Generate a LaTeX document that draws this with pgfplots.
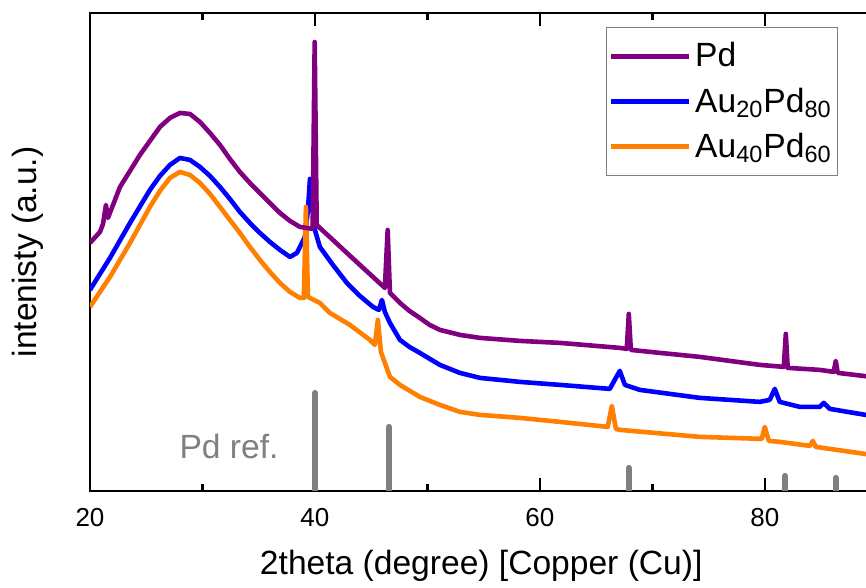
\documentclass[border=0pt]{standalone}
\usepackage{fontspec}
\setmainfont{Liberation Sans}
\usepackage{pgfplots}
\pgfplotsset{compat=1.18}
\definecolor{cPd}{RGB}{128,0,128}
\definecolor{cAuA}{RGB}{0,0,255}
\definecolor{cAuB}{RGB}{255,128,0}
\definecolor{cRef}{RGB}{128,128,128}
\begin{document}
\begin{tikzpicture}
\begin{axis}[
  name=ax,
  scale only axis,
  width=393.75pt, height=239pt,
  xmin=20, xmax=90, ymin=0, ymax=478,
  axis line style={line width=1.2pt, black},
  xtick={20,40,60,80}, minor xtick={30,50,70},
  ytick=\empty,
  tick align=inside,
  xtick pos=both,
  major tick length=6.5pt, minor tick length=3.5pt,
  every tick/.style={black, line width=1.2pt},
  /pgf/number format/assume math mode=true,
  tick label style={font=\fontsize{13}{15}\selectfont},
  xticklabel style={yshift=-5pt},
  xlabel={2theta (degree) [Copper (Cu)]},
  ylabel={intenisty (a.u.)},
  every axis x label/.style={at={(axis description cs:0.497,-0.176)}, anchor=base, font=\fontsize{16.8}{20}\selectfont},
  every axis y label/.style={at={(axis description cs:-0.079,0.5)}, rotate=90, anchor=center, font=\fontsize{16.8}{20}\selectfont},
  legend cell align=left,
  legend style={at={(axis description cs:0.9506,0.971)}, anchor=north east,
    draw=cRef, line width=0.7pt, font=\fontsize{16.8}{20}\selectfont,
    inner xsep=1pt, inner ysep=5.5pt, row sep=5pt},
  legend image code/.code={\draw[#1, line width=2.5pt] (0pt,0pt) -- (39pt,0pt);},
]
\addlegendimage{cPd, line width=2.5pt}
\addlegendentry{Pd}
\addlegendimage{cAuA, line width=2.5pt}
\addlegendentry{Au\textsubscript{20}Pd\textsubscript{80}}
\addlegendimage{cAuB, line width=2.5pt}
\addlegendentry{Au\textsubscript{40}Pd\textsubscript{60}}

% reference lines
\addplot[ycomb, cRef, line width=3pt, line cap=round, mark=none, forget plot] coordinates {
(40.0,98) (46.6,64) (67.9,23) (81.8,15) (86.3,13)};

% Au20Pd80
\addplot[cAuA, line width=2.3pt, line join=round, mark=none, forget plot] coordinates {
(20.00,201) (21.78,233) (23.56,268) (25.33,301) (26.22,315) (27.11,326) (28.00,333)
(28.89,331) (29.78,324) (30.67,315) (31.56,304) (32.44,292) (33.33,279) (34.22,268) (35.11,258) (36.00,249) (36.89,241) (37.78,234)
(38.40,238) (38.67,244) (39.11,254) (39.38,281) (39.56,312) (39.73,286) (40.00,261)
(40.44,244) (41.60,226) (42.84,208) (44.00,195) (45.16,184) (45.69,181) (45.96,191) (46.22,179)
(46.67,168) (47.56,151) (48.40,144) (49.33,138) (51.11,126) (52.89,118) (54.67,113)
(58.22,109) (61.78,106) (66.22,102) (66.76,113) (67.11,120) (67.56,106)
(68.89,101) (74.22,93) (79.56,89) (80.44,91) (80.89,102) (81.33,89)
(83.11,84) (84.89,84) (85.24,88) (85.78,82) (89.50,75)};

% Au40Pd60
\addplot[cAuB, line width=2.3pt, line join=round, mark=none, forget plot] coordinates {
(20.00,184) (21.78,214) (23.56,248) (25.33,284) (26.22,300) (27.11,313) (28.00,319)
(28.89,316) (29.78,308) (30.67,297) (31.56,284) (32.44,271) (33.33,258) (34.22,244) (35.11,231) (36.00,219) (36.89,208) (37.78,199) (38.67,193)
(39.02,193) (39.20,284) (39.38,194) (40.44,188) (41.33,178) (43.11,166)
(44.89,151) (45.33,146) (45.60,171) (45.87,139) (46.67,114) (47.56,106)
(49.33,94) (51.11,86) (52.89,79) (54.67,76) (58.22,73) (61.78,69)
(66.04,64) (66.40,85) (66.76,62) (67.11,61) (74.22,54) (79.73,52)
(80.00,64) (80.36,50) (81.33,49) (84.00,45) (84.27,50) (84.53,44)
(89.50,36)};

% Pd
\addplot[cPd, line width=2.3pt, line join=round, mark=none, forget plot] coordinates {
(20.00,248) (20.89,259) (21.16,267) (21.42,286) (21.60,273) (22.67,304)
(23.56,320) (24.44,336) (25.33,350) (26.22,364) (27.11,373) (28.00,378) (28.89,377) (29.78,369)
(30.67,358) (31.56,346) (32.44,332) (33.33,319) (34.22,308) (35.11,298) (36.00,288) (36.89,278) (37.78,270) (38.67,264) (39.80,262)
(39.98,449) (40.16,266) (40.44,263) (41.60,251) (42.84,238) (44.00,226) (45.16,214)
(46.22,203) (46.47,261) (46.67,198) (47.56,188) (48.40,180) (49.33,173)
(50.20,166) (51.11,161) (52.89,156) (54.67,153) (58.22,150) (61.78,148) (67.11,143)
(67.73,142) (67.91,177) (68.09,141) (70.67,138) (74.22,134) (79.56,126)
(81.69,124) (81.87,157) (82.04,123) (84.89,121) (86.13,119) (86.31,130)
(86.49,118) (89.50,114)};

\node[cRef, font=\fontsize{16.8}{20}\selectfont, anchor=center] at (axis cs:32.36,44) {Pd ref.};
\end{axis}
\pgfresetboundingbox
\path ([shift={(-45pt,-48.5pt)}]ax.south west) rectangle ([shift={(-5.625pt,6.5pt)}]ax.north east);
\end{tikzpicture}
\end{document}
